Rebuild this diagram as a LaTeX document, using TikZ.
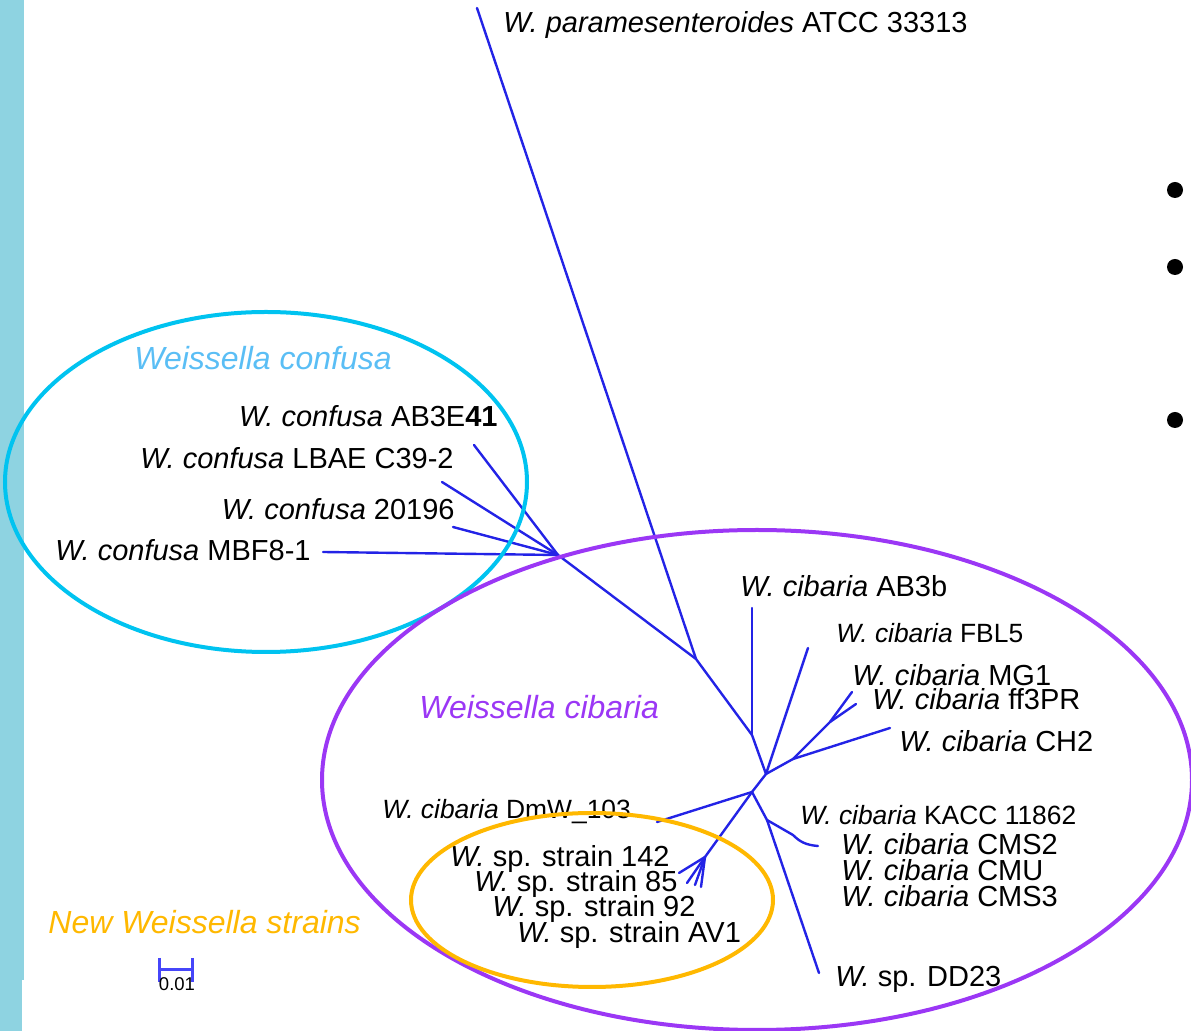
\documentclass[tikz,border=0pt]{standalone}
\usepackage{fontspec}
\setmainfont{Liberation Sans}
\definecolor{treeblue}{RGB}{35,35,230}
\definecolor{barblue}{RGB}{70,70,250}
\definecolor{stripblue}{RGB}{142,211,225}
\definecolor{confusacyan}{RGB}{0,195,240}
\definecolor{confusatitle}{RGB}{90,190,245}
\definecolor{cibariapurple}{RGB}{155,55,245}
\definecolor{strainorange}{RGB}{255,184,0}
\begin{document}
\begin{tikzpicture}[x=0.5pt,y=-0.5pt,
  branch/.style={draw=treeblue, line width=1.2pt, line cap=round, line join=round},
  lbl/.style={inner sep=0pt, font=\fontsize{14.5}{16}\selectfont},
  lblsm/.style={inner sep=0pt, font=\fontsize{13.2}{15}\selectfont},
  grouptitle/.style={inner sep=0pt, font=\fontsize{16}{18}\selectfont\itshape},
  ring/.style={line width=2pt},
  scalebar/.style={draw=barblue, line width=1.5pt}]

% page frame and side strip
\useasboundingbox (0,0) rectangle (1191,1031);
\fill[stripblue] (0,0) rectangle (24,980);
\fill[stripblue] (0,980) rectangle (22,1031);

% bullet points at the right edge
\fill[black] (1175,190) circle [radius=8];
\fill[black] (1175,267) circle [radius=8];
\fill[black] (1175,420) circle [radius=8];

% internal nodes of the tree
\coordinate (n1) at (696,659);
\coordinate (cj) at (558,555);
\coordinate (nb) at (752,735);
\coordinate (nc) at (766,774);
\coordinate (ne) at (793,759);
\coordinate (nf) at (830,722);
\coordinate (ng) at (752,792);
\coordinate (nh) at (767,820);
\coordinate (nk) at (793,835);
\coordinate (ni) at (705,857);

% leaf ends
\coordinate (tPar) at (477,8);
\coordinate (tAB3E) at (474,445);
\coordinate (tLBAE) at (442,482);
\coordinate (t20196) at (453,527);
\coordinate (tMBF) at (323,552);
\coordinate (tAB3b) at (752,608);
\coordinate (tFBL5) at (808,648);
\coordinate (tMG1) at (852,692);
\coordinate (tff3) at (856,704);
\coordinate (tCH2) at (890,728);
\coordinate (tDmW) at (657,822);
\coordinate (tDD23) at (819,973);
\coordinate (tCMS) at (818,846);
\coordinate (tS1) at (679,873);
\coordinate (tS2) at (687,883);
\coordinate (tS3) at (695,885);
\coordinate (tS4) at (701,887);

% branches
\draw[branch] (tPar) -- (n1);
\draw[branch] (cj) -- (n1);
\draw[branch] (tAB3E) -- (cj);
\draw[branch] (tLBAE) -- (cj);
\draw[branch] (t20196) -- (cj);
\draw[branch] (tMBF) -- (cj);
\draw[branch] (n1) -- (nb);
\draw[branch] (tAB3b) -- (nb);
\draw[branch] (nb) -- (nc);
\draw[branch] (nc) -- (tFBL5);
\draw[branch] (nc) -- (ne);
\draw[branch] (ne) -- (tCH2);
\draw[branch] (ne) -- (nf);
\draw[branch] (nf) -- (tMG1);
\draw[branch] (nf) -- (tff3);
\draw[branch] (nc) -- (ng);
\draw[branch] (ng) -- (tDmW);
\draw[branch] (ng) -- (nh);
\draw[branch] (nh) -- (tDD23);
\draw[branch] (nh) -- (nk);
\draw[branch] (nk) .. controls (800,842) and (806,845) .. (tCMS);
\draw[branch] (ng) -- (ni);
\draw[branch] (ni) -- (tS1);
\draw[branch] (ni) -- (tS2);
\draw[branch] (ni) -- (tS3);
\draw[branch] (ni) -- (tS4);

% leaf labels
\node[lbl, anchor=base west] (lPar) at (503,33) {\textit{W. paramesenteroides} ATCC 33313};
\node[lbl, anchor=base east] (lAB3E) at (498,427) {\textit{W. confusa} AB3E\textbf{41}};
\node[lbl, anchor=base east] (lLBAE) at (454,469) {\textit{W. confusa} LBAE C39-2};
\node[lbl, anchor=base east] (l20196) at (455,520) {\textit{W. confusa} 20196};
\node[lbl, anchor=base west] (lMBF) at (55,561) {\textit{W. confusa} MBF8-1};
\node[lbl, anchor=base west] (lAB3b) at (740,597) {\textit{W. cibaria} AB3b};
\node[lblsm, anchor=base west] (lFBL5) at (836,643) {\textit{W. cibaria} FBL5};
\node[lbl, anchor=base west] (lMG1) at (852,686) {\textit{W. cibaria} MG1};
\node[lbl, anchor=base west] (lff3) at (872,710) {\textit{W. cibaria} ff3PR};
\node[lbl, anchor=base west] (lCH2) at (899,752) {\textit{W. cibaria} CH2};
\node[lblsm, anchor=base west] (lKACC) at (800,825) {\textit{W. cibaria} KACC 11862};
\node[lbl, anchor=base west] (lCMS2) at (841,855) {\textit{W. cibaria} CMS2};
\node[lbl, anchor=base west] (lCMU) at (841,881) {\textit{W. cibaria} CMU};
\node[lbl, anchor=base west] (lCMS3) at (841,907) {\textit{W. cibaria} CMS3};
\node[lbl, anchor=base west] (lDD23) at (835,987) {\textit{W.} sp. DD23};
\node[lblsm, anchor=base west] (lDmW) at (382,819) {\textit{W. cibaria} DmW\_103};
\node[lbl, anchor=base west] (lS1) at (450,867) {\textit{W.} sp. strain 142};
\node[lbl, anchor=base west] (lS2) at (474,892) {\textit{W.} sp. strain 85};
\node[lbl, anchor=base west] (lS3) at (492,917) {\textit{W.} sp. strain 92};
\node[lbl, anchor=base west] (lS4) at (517,943) {\textit{W.} sp. strain AV1};

% group outlines
\draw[ring, draw=confusacyan] (266,482) ellipse [x radius=261, y radius=170];
\draw[ring, draw=cibariapurple] (757,780) ellipse [x radius=435, y radius=250];
\draw[ring, draw=strainorange] (592,900) ellipse [x radius=181, y radius=87];

% group titles
\node[grouptitle, text=confusatitle, anchor=base west] (gConf) at (134,370) {Weissella confusa};
\node[grouptitle, text=cibariapurple, anchor=base west] (gCib) at (419,719) {Weissella cibaria};
\node[grouptitle, text=strainorange, anchor=base west] (gNew) at (48,934) {New Weissella strains};

% scale bar
\coordinate (sbL) at (159,970);
\coordinate (sbR) at (192,970);
\draw[scalebar] (sbL) -- (sbR);
\draw[scalebar] ([yshift=6]sbL) -- ([yshift=-6]sbL);
\draw[scalebar] ([yshift=6]sbR) -- ([yshift=-6]sbR);
\node[inner sep=0pt, anchor=base, font=\fontsize{9.25}{11}\selectfont] (sbLabel) at (177,991) {0.01};
\end{tikzpicture}
\end{document}
